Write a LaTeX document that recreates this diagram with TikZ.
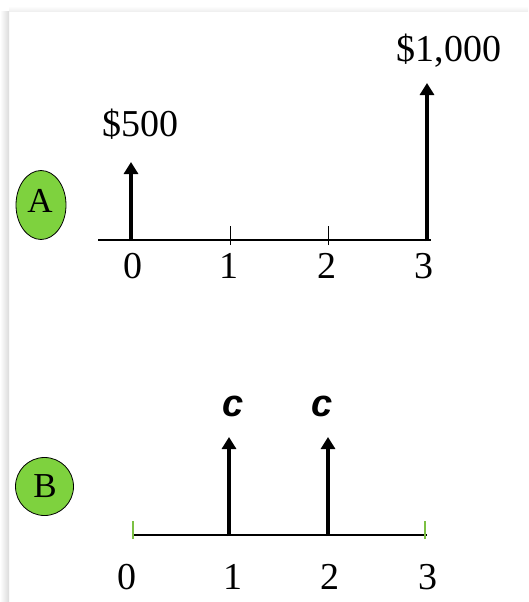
\documentclass[tikz,border=0pt]{standalone}
\usepackage{fontspec}
\setmainfont{Liberation Serif}
\setsansfont{Liberation Sans}
\usetikzlibrary{arrows.meta,shapes.geometric}
\definecolor{badge}{HTML}{7ED23E}
\definecolor{tickgreen}{HTML}{7CC043}
\tikzset{
  cf/.style={line width=4pt,-{Triangle[width=14pt,length=12pt]}},
  axisline/.style={line width=1.3pt},
  tickline/.style={line width=1pt},
  gtick/.style={line width=1.2pt,draw=tickgreen},
  num/.style={anchor=base,inner sep=0pt,font=\fontsize{38}{40}\selectfont},
  clab/.style={anchor=base,inner sep=0pt,font=\sffamily\bfseries\itshape\fontsize{38}{40}\selectfont},
  badgeshape/.style={draw=black,line width=0.8pt,fill=badge,inner sep=0pt,font=\fontsize{35}{36}\selectfont}
}
\begin{document}
\begin{tikzpicture}[x=1pt,y=-1pt]
\useasboundingbox (0,0) rectangle (528,602);
\fill[white] (0,0) rectangle (528,602);
\shade[left color=white,right color=black!14] (0,12) rectangle (9,602);
\shade[top color=white,bottom color=black!7] (9,6) rectangle (528,12);
% ---------- A ----------
\node[badgeshape,ellipse,minimum width=50pt,minimum height=69pt] (A) at (41,205) {};
\node[num,font=\fontsize{35}{36}\selectfont] (Alab) at (40,212) {A};
\coordinate (a0) at (98,240);
\coordinate (a3) at (431,240);
\draw[axisline] (a0) -- (a3);
\coordinate (t1b) at (230,245); \coordinate (t1t) at (230,226);
\coordinate (t2b) at (328,245); \coordinate (t2t) at (328,226);
\draw[tickline] (t1b) -- (t1t);
\draw[tickline] (t2b) -- (t2t);
\coordinate (p0) at (131,241); \coordinate (p0tip) at (131,162);
\coordinate (p3) at (427,241); \coordinate (p3tip) at (427,83);
\draw[cf] (p0) -- (p0tip);
\draw[cf] (p3) -- (p3tip);
\node[num] (v500) at (140,136) {\$500};
\node[num] (v1000) at (449,62) {\$1,000};
\node[num] (xa0) at (133,278) {0};
\node[num] (xa1) at (229,278) {1};
\node[num] (xa2) at (327,278) {2};
\node[num] (xa3) at (424,278) {3};
% ---------- B ----------
\node[badgeshape,circle,minimum size=58pt] (B) at (44.5,486.5) {};
\node[num,font=\fontsize{35}{36}\selectfont] (Blab) at (45,497) {B};
\coordinate (b0) at (133,535);
\coordinate (b3) at (427,535);
\draw[axisline] (b0) -- (b3);
\coordinate (g0b) at (133,539); \coordinate (g0t) at (133,521);
\coordinate (g3b) at (425,539); \coordinate (g3t) at (425,521);
\draw[gtick] (g0b) -- (g0t);
\draw[gtick] (g3b) -- (g3t);
\coordinate (q1) at (229,536); \coordinate (q1tip) at (229,437);
\coordinate (q2) at (328,536); \coordinate (q2tip) at (328,437);
\draw[cf] (q1) -- (q1tip);
\draw[cf] (q2) -- (q2tip);
\node[clab] (c1) at (233,416) {c};
\node[clab] (c2) at (322,416) {c};
\node[num] (xb0) at (127,589) {0};
\node[num] (xb1) at (233,589) {1};
\node[num] (xb2) at (330,589) {2};
\node[num] (xb3) at (428,589) {3};
\end{tikzpicture}
\end{document}
